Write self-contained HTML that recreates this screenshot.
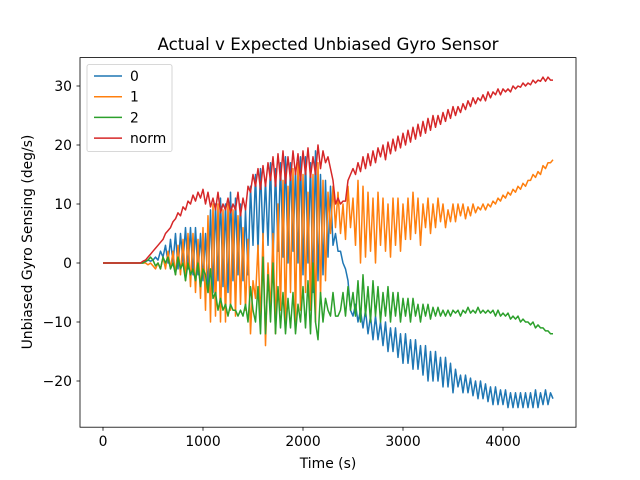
<!DOCTYPE html>
<html><head><meta charset="utf-8"><style>
body{margin:0;background:#fff;}
svg{display:block;font-family:"DejaVu Sans","Liberation Sans",sans-serif;}
</style></head><body>
<svg id="chart" width="640" height="480">
<rect width="640" height="480" fill="#fff"/>
<text x="328" y="50" text-anchor="middle" font-size="16.7">Actual v Expected Unbiased Gyro Sensor</text>
<g id="plot"></g>
<rect x="80" y="57.6" width="496" height="369.6" fill="none" stroke="#000" stroke-width="0.8"/>
<g id="axes"></g>
<text x="328" y="468" text-anchor="middle" font-size="13.9">Time (s)</text>
<text transform="translate(32,242) rotate(-90)" text-anchor="middle" font-size="13.9">Unbiased Gyro Sensing (deg/s)</text>
<g id="legend"></g>
</svg>
<script>
const series0 = [0,0,0,0,0,0,0,0,0,0,0,0,0,0,0,0,
0,0.2,0.5,0.3,0.5,
1,0.5,2,1,3,0,4,0,5,-1,5,0,6,-1,6,-2,6,-2,5,-3,
5,-5,9,-5,10,-3,11,-4,10,-5,12,-3,11,-2,10,-3,9,-2,13,3,
15,2,16,4,14,3,17,0,16,2,17,1,18,0,17,2,16,0,18,-2,
18,0,17,-5,19,-3,15,-2,14,1,13,3,5,2,2,0,-1,-3,-8,-9,
-7,-10,-8,-11,-8,-12,-9,-13,-9,-13,-10,-14,-10,-15,-11,-15,-11,-16,-12,-17,
-12,-17,-13,-18,-13,-18,-14,-19,-14,-20,-15,-20,-15,-20,-16,-21,-16,-21,-17,-22,
-18,-21,-19,-22,-19,-22,-19.5,-22.5,-20,-23,-20,-23,-20.5,-23.5,-21,-24,-21,-24,-21.5,-24,
-21.5,-24.5,-22,-24.5,-22,-24.5,-22,-24.5,-22,-24.5,-22,-24.5,-21.5,-24.5,-22,-24,-21.5,-24,-22,-23];
const series1 = [0,0,0,0,0,0,0,0,0,0,0,0,0,0,0,0,
0,0,-0.3,0,-0.5,
-1,0,-1,1,-1,2,-1,2,-2,3,-2,4,-3,5,-4,5,-5,4,-6,6,
-8,8,-10,10,-9,10,-10,9,-10,10,-8,9,-9,8,-7,6,-8,4,-12,-3,
-6,3,-10,5,-14,0,-8,5,-12,10,-8,14,-10,13,-5,16,-10,17,-8,15,
-5,12,-8,15,-10,17,-6,14,-3,12,5,13,6,12,5,10,4,13,6,11,
3,14,0,13,1,12,2,11,0,12,3,11,2,10,1,11,3,11,2,10,
4,11,4,12,5,11,3,10,6,11,5,10,6,11,7,10,6,9,7,10,
7,10,8,10,7.5,9.5,8,10,8.5,9.5,9,10,9,10,9.5,10.5,10,11,10.5,11.5,
11,12,11.5,12.5,12,13,12.5,13.5,13,14,14,15,14.5,15.5,15,16.5,16,17,17,17.5];
const series2 = [0,0,0,0,0,0,0,0,0,0,0,0,0,0,0,0,
0,0.3,0.5,1,0.5,
-0.5,0,-1,1,0,1,-1,0,-2,1,-1,0,-3,0,-2,-1,-3,0,-4,-1,
-2,-5,-1,-6,-5,-8,-6,-8,-7,-9,-7,-8,-8,-9,-8,-9,-7,-10,-4,-8,
-10,-4,-12,1,-12,-2,-10,0,-12,-4,-11,-5,-12,-6,-11,-5,-12,-7,-10,-4,
-11,-3,-12,0,-10,-13,-5,-10,-6,-8,-9,-5,-9,-9,-8,-5,-9,-4,-8,-5,
-9,-3,-10,-2,-9,-4,-10,-3,-9,-4,-10,-5,-9,-4,-10,-5,-9,-5,-10,-6,
-9,-6,-10,-6,-9,-7,-10,-7,-9,-7,-9.5,-7.5,-9,-7.5,-9,-8,-9,-8,-9,-8,
-8.5,-8,-9,-8,-8.5,-7.5,-8.5,-8,-8.5,-7.5,-8.5,-8,-8.5,-8,-8.5,-8,-9,-8,-9,-8.5,
-9,-8.5,-9.5,-9,-9.5,-9,-10,-9.5,-10,-10,-10.5,-10,-11,-10.5,-11,-11,-11.5,-11.5,-12,-12];
const seriesNorm = [0,0,0,0,0,0,0,0,0,0,0,0,0,0,0,0,
0.3,0.5,1,1.5,2,
2.5,3,3.5,4,5,5.5,6,7,7.5,8.5,8,9.5,9,10.5,10,11.5,10.5,12,11,12.5,
10,12,9.5,11,9,12,8.5,10,9,11,8.5,10,9,12,8,11,9,13,12,15,
13,16,12.5,16.5,13,17,14,18,13,18.5,14,19,13.5,18,14,19,15,18.5,14,19,
15,19.5,14.5,18,15,20,16,19,17,18,16,14,10,11,10,10.5,10.5,14,15,16,
15,17,15.5,18,16,18.5,16.5,19,17,19.5,18,20,17.5,20.5,18.5,21,19,21.5,19.5,22,
20,22.5,20.5,23,21,23.5,21.5,24,22,24.5,22.5,25,23,25,23.5,25.5,24,26,24.5,26.5,
25,26.5,25.5,27,26,27.5,26.5,28,27,28,27.5,28.5,27.5,29,28,29,28.5,29.5,28.5,29.5,
29,29.5,29,30,29.5,30,29.8,30.5,30,30.5,30.2,31,30.5,31,30.8,31.5,30.8,31.5,31,31];
const timeStep = 25;
const xTicks = [0,1000,2000,3000,4000];
const yTicks = [-20,-10,0,10,20,30];
const seriesNames = ["0","1","2","norm"];
const seriesColors = ["#1f77b4","#ff7f0e","#2ca02c","#d62728"];

const NS="http://www.w3.org/2000/svg";
function xs(t){return 103+ (t)*0.1;}
function ys(v){return 263- v*5.9;}
function mk(tag,attrs,parent){const e=document.createElementNS(NS,tag);for(const k in attrs)e.setAttribute(k,attrs[k]);parent.appendChild(e);return e;}
const plot=document.getElementById('plot'), axes=document.getElementById('axes'), legend=document.getElementById('legend');
[series0,series1,series2,seriesNorm].forEach((arr,si)=>{
  const d=arr.map((v,i)=>(i?'L':'M')+xs(i*timeStep).toFixed(1)+','+ys(v).toFixed(1)).join('');
  const p=mk('path',{d:d,fill:'none',stroke:seriesColors[si],'stroke-width':1.5,'stroke-linejoin':'round'},plot);
  
  
});
xTicks.forEach(t=>{
  const l=mk('line',{x1:xs(t),x2:xs(t),y1:427.2,y2:430.7,stroke:'#000','stroke-width':0.8},axes);
  
  
  const tx=mk('text',{x:xs(t),y:446,'text-anchor':'middle','font-size':13.9},axes);
  tx.textContent=t;
  
  
});
yTicks.forEach(v=>{
  const l=mk('line',{x1:76.5,x2:80,y1:ys(v),y2:ys(v),stroke:'#000','stroke-width':0.8},axes);
  
  
  const tx=mk('text',{x:72,y:ys(v)+5,'text-anchor':'end','font-size':13.9},axes);
  tx.textContent=(v<0?'\u2212'+(-v):v);
  
  
});
const box=mk('rect',{x:87,y:64.6,width:85,height:87,rx:2,fill:'#fff','fill-opacity':0.8,stroke:'#ccc','stroke-width':0.8},legend);


seriesNames.forEach((n,i)=>{
  const y=76+i*20.7;
  const l=mk('line',{x1:94,x2:122,y1:y,y2:y,stroke:seriesColors[i],'stroke-width':1.5},legend);
  
  
  const t=mk('text',{x:130,y:y+5,'font-size':13.9},legend);
  t.textContent=n;
  
  
});
</script>
</body></html>
